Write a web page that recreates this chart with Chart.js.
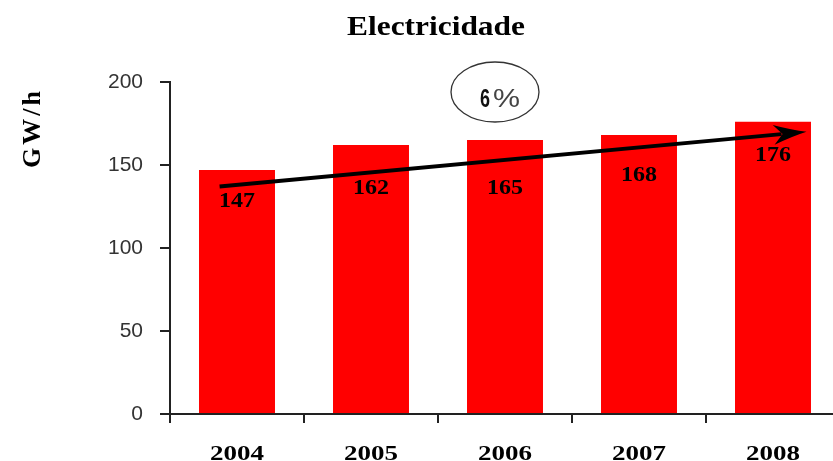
<!DOCTYPE html>
<html><head><meta charset="utf-8">
<script src="https://cdn.jsdelivr.net/npm/chart.js@4/dist/chart.umd.min.js"></script>
<style>html,body{margin:0;padding:0;background:#fff;overflow:hidden}
#wrap{position:relative;width:840px;height:461px}</style></head>
<body><div id="wrap"><canvas id="c"></canvas></div>
<script>
const categories = ['2004', '2005', '2006', '2007', '2008'];
const values = [147, 162, 165, 168, 176];
const yTicks = [0, 50, 100, 150, 200];
const chartTitle = 'Electricidade';
const yAxisTitle = 'GW/h';
const growthNumber = '6';
const growthUnit = '%';
const trendValues = [137, 170];

function fitText(ctx, text, x, y, font, width, align, baseline, color) {
  ctx.save();
  ctx.font = font;
  ctx.fillStyle = color || '#000';
  ctx.textAlign = align || 'center';
  ctx.textBaseline = baseline || 'alphabetic';
  const w = ctx.measureText(text).width;
  const sx = width ? width / w : 1;
  ctx.translate(x, y);
  ctx.scale(sx, 1);
  ctx.fillText(text, 0, 0);
  ctx.restore();
}

const decor = {
  id: 'decor',
  afterDraw(chart) {
    const ctx = chart.ctx;
    const xs = chart.scales.x, ys = chart.scales.y;
    const serifB = (s) => 'bold ' + s + 'px "Liberation Serif", "DejaVu Serif", serif';
    // title
    fitText(ctx, chartTitle, 436, 35, serifB(27), 178);
    // y title
    ctx.save();
    ctx.translate(40, 128);
    ctx.rotate(-Math.PI / 2);
    ctx.font = serifB(26);
    ctx.fillStyle = '#000';
    ctx.textAlign = 'center';
    ctx.textBaseline = 'alphabetic';
    try { ctx.letterSpacing = '3px'; } catch (e) {}
    ctx.fillText(yAxisTitle, 0, 0);
    ctx.restore();
    // x labels
    categories.forEach((c, i) => {
      fitText(ctx, c, xs.getPixelForValue(i), 460, serifB(22), 54);
    });
    // trend arrow
    const cw = xs.getPixelForValue(1) - xs.getPixelForValue(0);
    const x0 = xs.getPixelForValue(0) - 0.13 * cw, y0 = ys.getPixelForValue(trendValues[0]);
    const x1 = xs.getPixelForValue(categories.length - 1) + 0.25 * cw, y1 = ys.getPixelForValue(trendValues[1]);
    const ang = Math.atan2(y1 - y0, x1 - x0);
    const hl = 33, hw = 10;
    ctx.save();
    ctx.strokeStyle = '#000';
    ctx.lineWidth = 4;
    ctx.beginPath();
    ctx.moveTo(x0, y0);
    ctx.lineTo(x1 - Math.cos(ang) * (hl - 8), y1 - Math.sin(ang) * (hl - 8));
    ctx.stroke();
    ctx.translate(x1, y1);
    ctx.rotate(ang);
    ctx.fillStyle = '#000';
    ctx.beginPath();
    ctx.moveTo(0, 0);
    ctx.quadraticCurveTo(-14, -3, -hl, -hw);
    ctx.lineTo(-hl + 9, 0);
    ctx.lineTo(-hl, hw);
    ctx.quadraticCurveTo(-14, 3, 0, 0);
    ctx.closePath();
    ctx.fill();
    ctx.restore();
    // value labels
    const meta = chart.getDatasetMeta(0);
    const offs = [32, 43, 48, 40, 34];
    meta.data.forEach((bar, i) => {
      fitText(ctx, String(values[i]), bar.x, bar.y + offs[i], serifB(21), 36, 'center', 'middle');
    });
    // growth ellipse
    ctx.save();
    ctx.strokeStyle = '#333';
    ctx.lineWidth = 1.3;
    ctx.beginPath();
    ctx.ellipse(495, 92, 44, 30, 0, 0, Math.PI * 2);
    ctx.stroke();
    ctx.restore();
    fitText(ctx, growthNumber, 480, 107, 'bold 26px "Liberation Sans", Arial, sans-serif', 10, 'left', 'alphabetic', '#111');
    fitText(ctx, growthUnit, 493, 107, '26px "Liberation Sans", Arial, sans-serif', 27, 'left', 'alphabetic', '#444');
  }
};

new Chart(document.getElementById('c'), {
  type: 'bar',
  data: {
    labels: categories,
    datasets: [{
      data: values,
      backgroundColor: '#ff0000',
      borderWidth: 0,
      categoryPercentage: 1,
      barPercentage: 0.567
    }]
  },
  options: {
    responsive: true,
    maintainAspectRatio: false,
    animation: false,
    layout: { padding: { top: 82, left: 0, right: 0, bottom: 0 } },
    plugins: { legend: { display: false }, tooltip: { enabled: false } },
    scales: {
      x: {
        grid: { offset: true, drawOnChartArea: false, drawTicks: true, tickLength: 9, color: '#222', lineWidth: 2 },
        border: { display: true, color: '#222', width: 2 },
        ticks: { display: false },
        afterFit(s) { s.height = 47; }
      },
      y: {
        min: 0, max: 200,
        afterBuildTicks(s) { s.ticks = yTicks.map(v => ({ value: v })); },
        grid: { drawOnChartArea: false, drawTicks: true, tickLength: 10, color: '#222', lineWidth: 2 },
        border: { display: true, color: '#222', width: 2 },
        ticks: { color: '#333', padding: 17, font: { family: '"Liberation Sans", Arial, sans-serif', size: 21 } },
        afterFit(s) { s.width = 170; }
      }
    }
  },
  plugins: [decor]
});
</script>
</body></html>
